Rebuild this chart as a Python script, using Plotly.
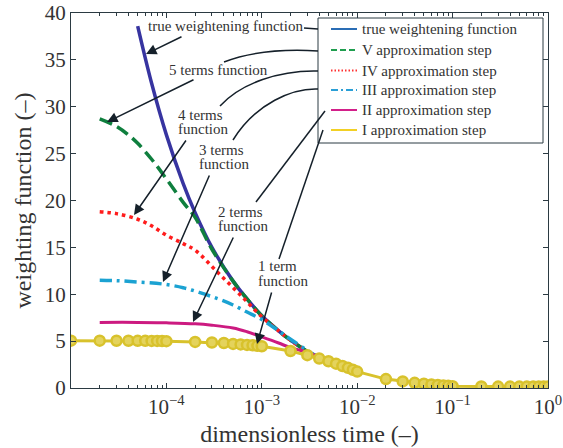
import plotly.graph_objects as go

# ---------------- data ----------------
t_true = [5e-5, 7e-5, 1e-4, 1.5e-4, 2e-4, 3e-4, 5e-4, 7e-4, 1e-3, 1.5e-3, 2e-3, 3e-3, 3.6e-3]
w_true = [38.6, 32.5, 27.0, 21.8, 18.7, 15.0, 11.4, 9.5, 7.7, 6.1, 5.1, 3.9, 3.5]

t_v = [2e-5, 3e-5, 4e-5, 5e-5, 7e-5, 1e-4, 1.5e-4, 2e-4, 3e-4, 5e-4, 7e-4, 1e-3, 1.5e-3, 2e-3, 3e-3, 3.6e-3]
w_v = [28.7, 27.9, 27.0, 26.1, 24.4, 22.3, 19.8, 18.2, 14.8, 11.4, 9.5, 7.7, 6.1, 5.1, 3.9, 3.5]

t_iv = [2e-5, 3e-5, 5e-5, 7e-5, 1e-4, 1.5e-4, 2e-4, 3.4e-4, 6e-4, 1e-3, 1.5e-3, 2e-3, 3e-3, 3.6e-3]
w_iv = [18.8, 18.6, 18.0, 17.3, 16.3, 15.4, 14.7, 12.4, 9.9, 7.6, 6.1, 5.1, 3.9, 3.5]

t_iii = [2e-5, 3e-5, 5e-5, 9e-5, 1.5e-4, 2.2e-4, 3.5e-4, 5e-4, 7e-4, 1e-3, 1.5e-3, 2e-3, 3e-3, 3.6e-3]
w_iii = [11.5, 11.45, 11.3, 11.1, 10.7, 10.2, 9.5, 8.85, 8.1, 7.3, 6.1, 5.2, 4.0, 3.5]

t_ii = [2e-5, 5e-5, 1e-4, 2e-4, 3e-4, 5e-4, 7e-4, 1e-3, 1.5e-3, 2e-3, 3e-3, 3.6e-3]
w_ii = [7.0, 7.0, 6.95, 6.85, 6.7, 6.4, 6.0, 5.45, 4.8, 4.3, 3.8, 3.5]

t_i = [1e-5, 2e-5, 3e-5, 4e-5, 5e-5, 6e-5, 7e-5, 8e-5, 9e-5,
       1e-4, 2e-4, 3e-4, 4e-4, 5e-4, 6e-4, 7e-4, 8e-4, 9e-4,
       1e-3, 2e-3, 3e-3, 4e-3, 5e-3, 6e-3, 7e-3, 8e-3, 9e-3,
       1e-2, 2e-2, 3e-2, 4e-2, 5e-2, 6e-2, 7e-2, 8e-2, 9e-2,
       1e-1, 2e-1, 3e-1, 4e-1, 5e-1, 6e-1, 7e-1, 8e-1, 9e-1, 1.0]
w_i = [5.05, 5.05, 5.04, 5.04, 5.03, 5.03, 5.02, 5.02, 5.01,
       5.0, 4.92, 4.85, 4.8, 4.7, 4.65, 4.6, 4.55, 4.5,
       4.45, 3.95, 3.5, 3.15, 2.85, 2.6, 2.35, 2.15, 1.95,
       1.75, 0.95, 0.7, 0.55, 0.46, 0.38, 0.32, 0.27, 0.23,
       0.2, 0.17, 0.15, 0.15, 0.15, 0.15, 0.15, 0.15, 0.15, 0.15]

legend_names = ["true weightening function", "V approximation step", "IV approximation step",
                "III approximation step", "II approximation step", "I approximation step"]
x_tickvals = [1e-4, 1e-3, 1e-2, 1e-1, 1]
x_ticktext = ["10<sup>\u22124</sup>", "10<sup>\u22123</sup>", "10<sup>\u22122</sup>",
              "10<sup>\u22121</sup>", "10<sup>0</sup>"]

# ---------------- layout geometry ----------------
W, H = 563, 448
L, R, T, B = 71, 548, 13, 388
FONT = "Liberation Serif"
AX = "#2b3a42"
INK = "#15202a"
TXT = "#333333"


def px(x, y):
    return (x - L) / (R - L), (B - y) / (B - T)


fig = go.Figure()

# data curves
fig.add_trace(go.Scatter(x=t_true, y=w_true, mode="lines", name=legend_names[0], showlegend=False,
                         line=dict(color="#3734a0", width=3.5, shape="spline")))
fig.add_trace(go.Scatter(x=t_v, y=w_v, mode="lines", name=legend_names[1], showlegend=False,
                         line=dict(color="#0f7f3e", width=3.5, dash="13px,6px", shape="spline")))
fig.add_trace(go.Scatter(x=t_iv, y=w_iv, mode="lines", name=legend_names[2], showlegend=False,
                         line=dict(color="#ff1c1c", width=3.5, dash="3.5px,4px", shape="spline")))
fig.add_trace(go.Scatter(x=t_iii, y=w_iii, mode="lines", name=legend_names[3], showlegend=False,
                         line=dict(color="#1ba2d2", width=3.5, dash="12px,5px,3px,5px", shape="spline")))
fig.add_trace(go.Scatter(x=t_ii, y=w_ii, mode="lines", name=legend_names[4], showlegend=False,
                         line=dict(color="#cc1a80", width=3, shape="spline")))
fig.add_trace(go.Scatter(x=t_i, y=w_i, mode="lines+markers", name=legend_names[5], showlegend=False,
                         line=dict(color="#d8c22c", width=3),
                         marker=dict(symbol="circle", size=10, color="#e4d35c",
                                     line=dict(color="#d8c22c", width=2.5))))

# ---------------- hand-drawn legend box ----------------
x0, y0 = px(318, 18)
x1, y1 = px(543, 143)
fig.add_shape(type="rect", xref="paper", yref="paper", x0=x0, y0=y1, x1=x1, y1=y0,
              line=dict(color=AX, width=1), fillcolor="white", layer="above")
leg_styles = [
    dict(color="#2a6db5", width=2),
    dict(color="#1f9e4f", width=2, dash="6px,3px"),
    dict(color="#ff3030", width=2, dash="1.5px,2px"),
    dict(color="#2b9fd6", width=2, dash="7px,3px,2px,3px"),
    dict(color="#d3208a", width=2),
    dict(color="#f2d024", width=2),
]
leg_rows = [29, 50, 70.5, 90, 110, 130]
for name, st, ry in zip(legend_names, leg_styles, leg_rows):
    a0, b0 = px(331, ry)
    a1, _ = px(357, ry)
    fig.add_shape(type="line", xref="paper", yref="paper", x0=a0, y0=b0, x1=a1, y1=b0,
                  line=st, layer="above")
    tx, ty = px(361, ry)
    fig.add_annotation(x=tx, y=ty, xref="paper", yref="paper", text=name, showarrow=False,
                       xanchor="left", yanchor="middle", borderpad=0,
                       font=dict(family=FONT, size=15, color=TXT))

# connector curves (pixel geometry -> paper)
def path_from(points, cmd):
    it = iter(points)
    s = "M%.4f,%.4f" % px(*next(it))
    rest = [px(*p) for p in it]
    if cmd == "L":
        for p in rest:
            s += " L%.4f,%.4f" % p
    else:
        s += " C" + " ".join("%.4f,%.4f" % p for p in rest)
    return s

connectors = [
    ([(304, 28), (318, 29)], "L"),
    ([(318, 51), (285, 49), (250, 52), (224, 62)], "C"),
    ([(318, 71), (280, 70), (241, 83), (220, 106)], "C"),
    ([(318, 89), (293, 88), (256, 103), (233, 140)], "C"),
    ([(325, 111), (256, 202)], "L"),
    ([(323, 130), (279, 259)], "L"),
]
for pts, cmd in connectors:
    fig.add_shape(type="path", xref="paper", yref="paper", path=path_from(pts, cmd),
                  line=dict(color=INK, width=1.5), layer="above")

# arrows: (tail, head)
arrows = [
    ((183, 36), (146, 54)),
    ((195, 79), (107, 122)),
    ((187, 139), (134, 215)),
    ((210, 174), (163, 282)),
    ((234, 236), (193, 322)),
    ((272, 291), (257, 344)),
]
for (tx, ty), (hx, hy) in arrows:
    xh, yh = px(hx, hy)
    fig.add_annotation(x=xh, y=yh, xref="paper", yref="paper", text="", showarrow=True,
                       ax=tx - hx, ay=ty - hy, axref="pixel", ayref="pixel",
                       arrowhead=2, arrowsize=1.4, arrowwidth=1.5, arrowcolor=INK,
                       standoff=0, startstandoff=0)

# text labels
labels = [
    ("true weightening function", 147, 26),
    ("5 terms function", 168, 70),
    ("4 terms", 177, 115), ("function", 177, 129),
    ("3 terms", 198, 150), ("function", 198, 164),
    ("2 terms", 217, 212), ("function", 217, 226),
    ("1 term", 257, 266), ("function", 257, 281),
]
for txt, lx, ly in labels:
    xx, yy = px(lx, ly)
    fig.add_annotation(x=xx, y=yy, xref="paper", yref="paper", text=txt, showarrow=False,
                       xanchor="left", yanchor="middle", borderpad=0,
                       font=dict(family=FONT, size=15, color=TXT))

# minor ticks for log axis
minor_vals = [m * 10 ** e for e in range(-5, 0) for m in range(2, 10)]

fig.update_layout(
    width=W, height=H,
    margin=dict(l=L, r=W - R, t=T, b=H - B),
    paper_bgcolor="white", plot_bgcolor="white",
    font=dict(family=FONT, color=TXT),
    showlegend=False,
    xaxis=dict(type="log", range=[-5, 0], tickvals=x_tickvals, ticktext=x_ticktext,
               automargin=False,
               ticks="inside", ticklen=5, tickwidth=1, tickcolor=AX,
               showline=True, linecolor=AX, linewidth=1, mirror="allticks",
               showgrid=False, zeroline=False,
               tickfont=dict(family=FONT, size=21, color=TXT),
               minor=dict(tickvals=minor_vals, ticks="inside", ticklen=3, tickcolor=AX, showgrid=False),
               title=dict(text="dimensionless time (\u2013)", font=dict(family=FONT, size=24, color=TXT),
                          standoff=6)),
    yaxis=dict(range=[0, 40], dtick=5, ticks="inside", ticklen=5, tickwidth=1, tickcolor=AX,
               automargin=False,
               showline=True, linecolor=AX, linewidth=1, mirror="allticks",
               showgrid=False, zeroline=False,
               tickfont=dict(family=FONT, size=21, color=TXT),
               title=dict(text="weighting function (\u2013)", font=dict(family=FONT, size=24, color=TXT),
                          standoff=6)),
)

fig.write_html("out.html")
